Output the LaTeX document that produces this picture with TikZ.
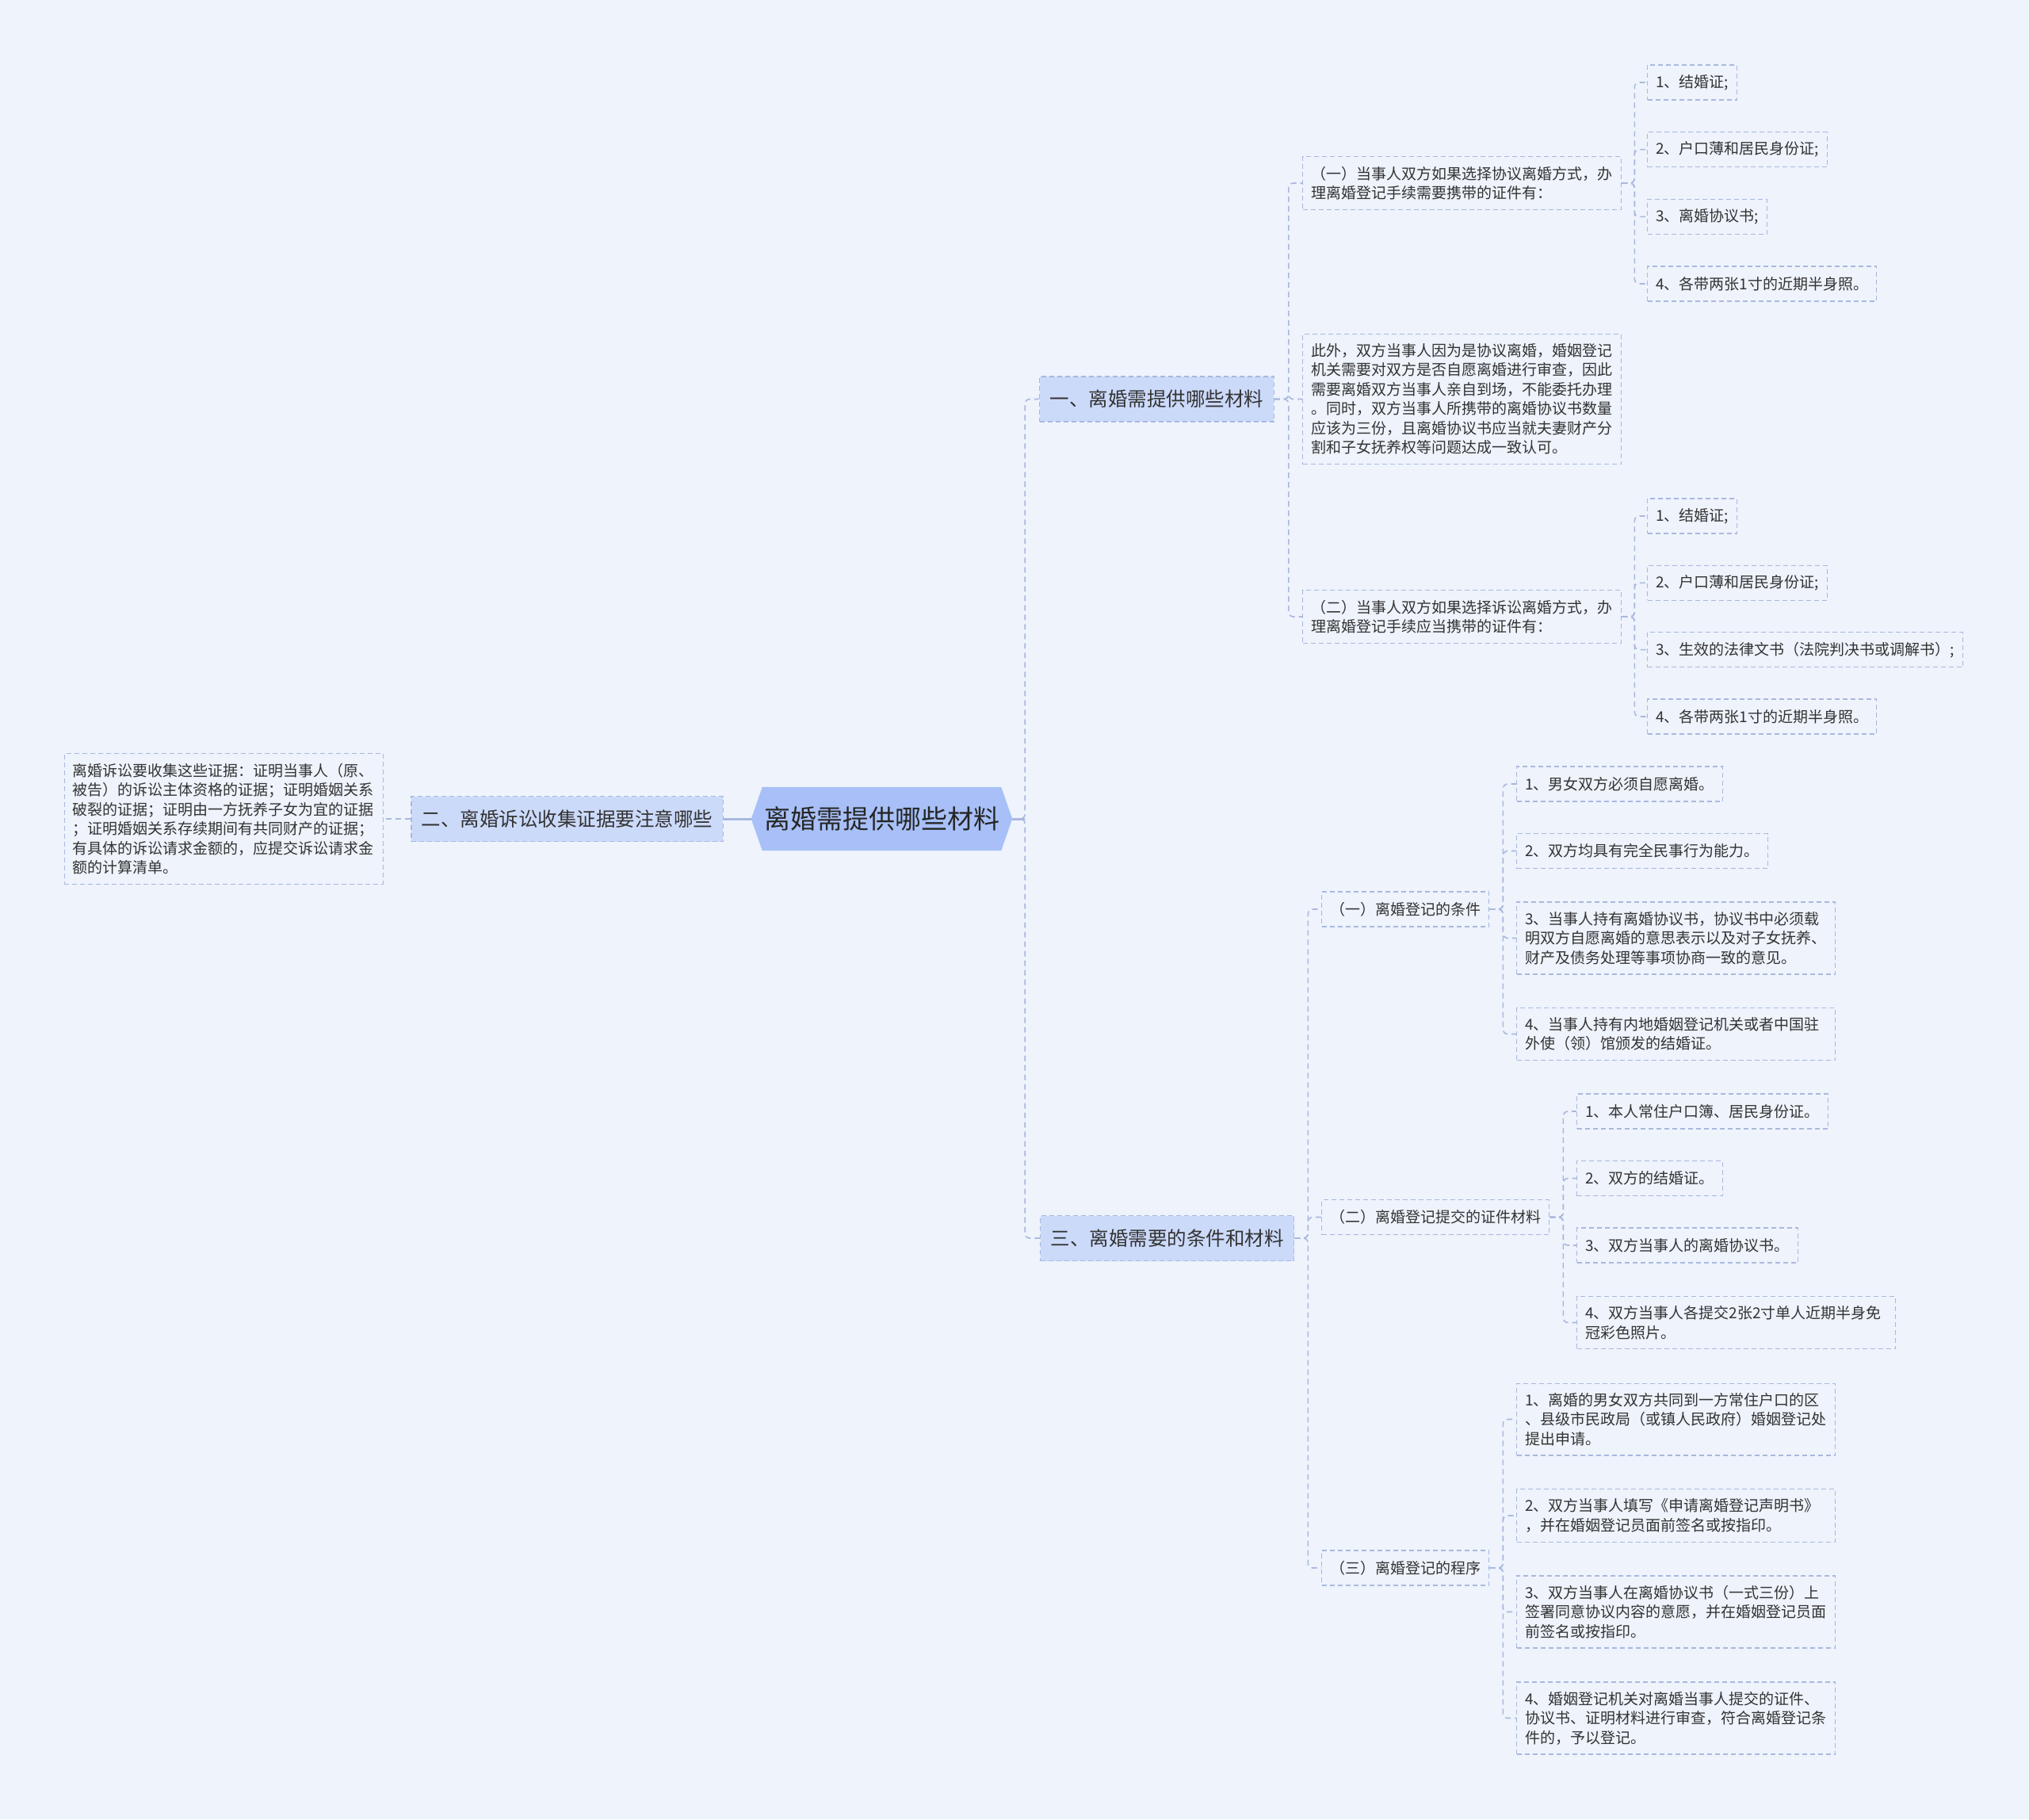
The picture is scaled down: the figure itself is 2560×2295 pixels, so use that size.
\documentclass[tikz,border=0pt]{standalone}
\usepackage{fontspec}
\setmainfont{Noto Sans CJK SC}
\usetikzlibrary{backgrounds}

\definecolor{bgcol}{HTML}{EEF3FC}
\definecolor{rootcol}{HTML}{A8C0F7}
\definecolor{branchcol}{HTML}{CCDAFA}
\definecolor{linecol}{HTML}{A9B8DE}
\definecolor{txtcol}{HTML}{333333}

\begin{document}
\begin{tikzpicture}[x=1pt, y=1pt,
    base/.style={font=\fontsize{19pt}{24.5pt}\selectfont, text=txtcol, align=left},
    item/.style={base, draw=linecol, line width=1.3pt, dash pattern=on 6pt off 4pt,
      inner xsep=10.5pt, inner ysep=12pt, minimum height=44pt, anchor=west},
    note/.style={item, text width=381pt},
    branch/.style={item, fill=branchcol, font=\fontsize{24.5pt}{30pt}\selectfont,
      inner xsep=13pt, minimum height=57pt},
    root/.style={text=black!85, font=\fontsize{33pt}{40pt}\selectfont,
      minimum width=301pt, minimum height=80pt, inner sep=0pt},
    link/.style={draw=linecol, line width=1.6pt, dash pattern=on 7pt off 5pt},
    trunk/.style={draw=linecol, line width=3pt},
    fork/.style={rounded corners=6pt, to path={-- ++(#1,0) |- (\tikztotarget)}},
    fork/.default=17]
  \begin{scope}[on background layer]
    \fill[bgcol] (0,0) rectangle (2560,-2295);
  \end{scope}
  \useasboundingbox (0,0) rectangle (2560,-2295);

  % centre
  \node[root] (root) at (1112.5,-1033) {离婚需提供哪些材料};
  \coordinate (rootL) at ([xshift=-14pt]root.west);
  \coordinate (rootR) at ([xshift=14pt]root.east);
  \begin{scope}[on background layer]
    \fill[rootcol] (root.north west) -- (root.north east) -- (rootR)
      -- (root.south east) -- (root.south west) -- (rootL) -- cycle;
  \end{scope}

  % main branches
  \node[branch] (b1) at (1311,-503.5) {一、离婚需提供哪些材料};
  \node[branch, anchor=east] (b2) at (913,-1033) {二、离婚诉讼收集证据要注意哪些};
  \node[branch] (b3) at (1312,-1562) {三、离婚需要的条件和材料};

  % branch two
  \node[note, anchor=east] (b2n) at (484,-1033) {离婚诉讼要收集这些证据：证明当事人（原、\\
    被告）的诉讼主体资格的证据；证明婚姻关系\\
    破裂的证据；证明由一方抚养子女为宜的证据\\
    ；证明婚姻关系存续期间有共同财产的证据；\\
    有具体的诉讼请求金额的，应提交诉讼请求金\\
    额的计算清单。};

  % branch one
  \node[note] (b1a) at (1643,-231) {（一）当事人双方如果选择协议离婚方式，办\\
    理离婚登记手续需要携带的证件有：};
  \node[note] (b1b) at (1643,-503.5) {此外，双方当事人因为是协议离婚，婚姻登记\\
    机关需要对双方是否自愿离婚进行审查，因此\\
    需要离婚双方当事人亲自到场，不能委托办理\\
    。同时，双方当事人所携带的离婚协议书数量\\
    应该为三份，且离婚协议书应当就夫妻财产分\\
    割和子女抚养权等问题达成一致认可。};
  \node[note] (b1c) at (1643,-778) {（二）当事人双方如果选择诉讼离婚方式，办\\
    理离婚登记手续应当携带的证件有：};

  \foreach \t [count=\i] in {{1、结婚证;},{2、户口薄和居民身份证;},
      {3、离婚协议书;},{4、各带两张1寸的近期半身照。}}
    \node[item] (b1a\i) at (2078,{-104-84.67*(\i-1)}) {\t};
  \foreach \t [count=\i] in {{1、结婚证;},{2、户口薄和居民身份证;},
      {3、生效的法律文书（法院判决书或调解书）;},{4、各带两张1寸的近期半身照。}}
    \node[item] (b1c\i) at (2078,{-651-84.33*(\i-1)}) {\t};

  % branch three
  \node[item] (c1) at (1667,-1147) {（一）离婚登记的条件};
  \node[item] (c2) at (1667,-1535.5) {（二）离婚登记提交的证件材料};
  \node[item] (c3) at (1667,-1978) {（三）离婚登记的程序};

  \node[item] (c11) at (1913,-989) {1、男女双方必须自愿离婚。};
  \node[item] (c12) at (1913,-1073.5) {2、双方均具有完全民事行为能力。};
  \node[note] (c13) at (1913,-1183.5) {3、当事人持有离婚协议书，协议书中必须载\\
    明双方自愿离婚的意思表示以及对子女抚养、\\
    财产及债务处理等事项协商一致的意见。};
  \node[note] (c14) at (1913,-1304.5) {4、当事人持有内地婚姻登记机关或者中国驻\\
    外使（领）馆颁发的结婚证。};

  \foreach \t [count=\i] in {{1、本人常住户口簿、居民身份证。},{2、双方的结婚证。},
      {3、双方当事人的离婚协议书。}}
    \node[item] (c2\i) at (1989,{-1402-84.5*(\i-1)}) {\t};
  \node[note] (c24) at (1989,-1668.5) {4、双方当事人各提交2张2寸单人近期半身免\\
    冠彩色照片。};

  \node[note] (c31) at (1913,-1790.5) {1、离婚的男女双方共同到一方常住户口的区\\
    、县级市民政局（或镇人民政府）婚姻登记处\\
    提出申请。};
  \node[note] (c32) at (1913,-1912) {2、双方当事人填写《申请离婚登记声明书》\\
    ，并在婚姻登记员面前签名或按指印。};
  \node[note] (c33) at (1913,-2033.5) {3、双方当事人在离婚协议书（一式三份）上\\
    签署同意协议内容的意愿，并在婚姻登记员面\\
    前签名或按指印。};
  \node[note] (c34) at (1913,-2167.5) {4、婚姻登记机关对离婚当事人提交的证件、\\
    协议书、证明材料进行审查，符合离婚登记条\\
    件的，予以登记。};

  % connectors
  \draw[trunk] (rootL) -- (b2.east);
  \draw[trunk] (rootR) -- ++(16,0);
  \draw[link] (rootR) edge[fork=16] (b1.west) edge[fork=16] (b3.west);
  \draw[link] (b2.west) -- (b2n.east);
  \draw[link] (b1.east) edge[fork=18] (b1a.west) edge[fork=18] (b1b.west)
    edge[fork=18] (b1c.west);
  \draw[link] (b1a.east) \foreach \i in {1,...,4} {edge[fork=16] (b1a\i.west)};
  \draw[link] (b1c.east) \foreach \i in {1,...,4} {edge[fork=16] (b1c\i.west)};
  \draw[link] (b3.east) \foreach \i in {1,2,3} {edge[fork] (c\i.west)};
  \draw[link] (c1.east) \foreach \i in {1,...,4} {edge[fork] (c1\i.west)};
  \draw[link] (c2.east) \foreach \i in {1,...,4} {edge[fork] (c2\i.west)};
  \draw[link] (c3.east) \foreach \i in {1,...,4} {edge[fork] (c3\i.west)};
\end{tikzpicture}
\end{document}
